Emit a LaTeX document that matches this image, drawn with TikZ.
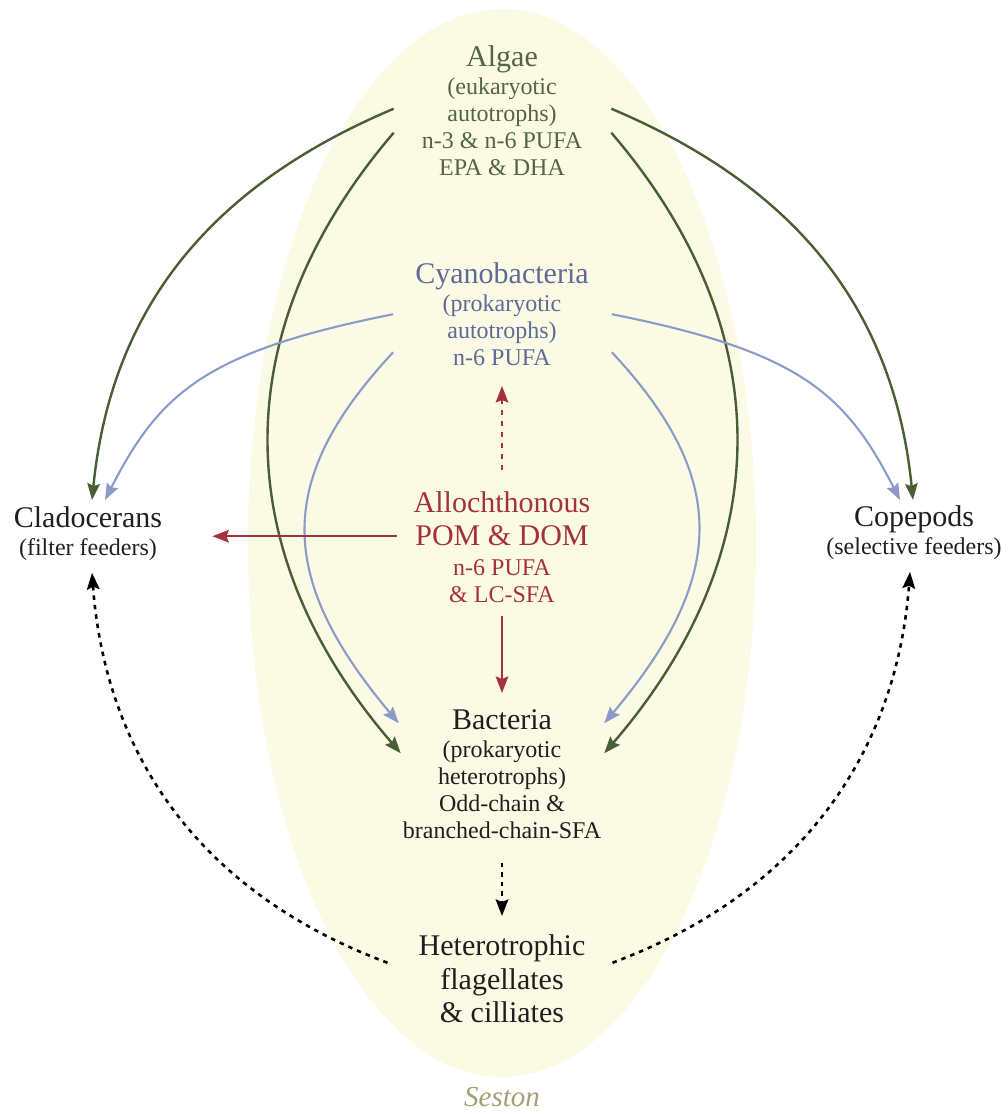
\documentclass[tikz,border=0pt]{standalone}
\usepackage{fontspec}
\setmainfont{Liberation Serif}
\usetikzlibrary{arrows.meta}
\definecolor{sestonfill}{RGB}{251,250,228}
\definecolor{algaegreen}{RGB}{74,94,54}
\definecolor{algaetext}{RGB}{84,100,72}
\definecolor{cyanoblue}{RGB}{140,154,200}
\definecolor{cyanotext}{RGB}{96,106,150}
\definecolor{allored}{RGB}{164,50,62}
\definecolor{sestontext}{RGB}{166,158,118}
\newcommand{\headsize}{\fontsize{30}{33.5}\selectfont}

\begin{document}
\begin{tikzpicture}[x=1pt,y=1pt,yscale=-1,
    txtblock/.style={align=center,inner sep=0pt,anchor=north,font=\fontsize{24}{27}\selectfont,text=black!88},
    flow/.style={line width=2.4pt,-{Stealth[length=16.5pt,width=12.5pt,inset=2.5pt]}},
    greenflow/.style={flow,draw=algaegreen},
    blueflow/.style={flow,line width=2.1pt,draw=cyanoblue},
    redflow/.style={flow,draw=allored},
    dotflow/.style={flow,line width=2.6pt,draw=black,dash pattern=on 4.5pt off 5pt}]
                \useasboundingbox (0,0) rectangle (1007,1114);
                % seston background
                \fill[sestonfill] (502,543) ellipse [x radius=254, y radius=534];
                % text blocks
                \node[txtblock,text=algaetext] (algae) at (502,45.5) {{\headsize Algae}\\[1pt] (eukaryotic\\ autotrophs)\\ n-3 \& n-6 PUFA\\ EPA \& DHA};
                \node[txtblock,text=cyanotext] (cyano) at (502,262.5) {{\headsize Cyanobacteria}\\[1pt] (prokaryotic\\ autotrophs)\\ n-6 PUFA};
                \node[txtblock,text=allored] (allo) at (502,491.5) {{\headsize Allochthonous}\\[6pt] {\headsize POM \& DOM}\\[3pt] n-6 PUFA\\ \& LC-SFA};
                \node[txtblock] (bact) at (502,709) {{\headsize Bacteria}\\[1pt] (prokaryotic\\ heterotrophs)\\ Odd-chain \&\\ branched-chain-SFA};
                \node[txtblock,font=\headsize] (hetero) at (502,934.5) {Heterotrophic\\ flagellates\\ \& cilliates};
                \node[txtblock] (clado) at (88,506.5) {{\headsize Cladocerans}\\[1pt] (filter feeders)};
                \node[txtblock] (cope) at (914,505.5) {{\headsize Copepods}\\[1pt] (selective feeders)};
                \node[anchor=base,inner sep=0pt,font=\fontsize{29}{32}\selectfont\itshape,text=sestontext] (seston) at (502,1106) {Seston};
                % algae
                \draw[greenflow] ([shift={(-28,-2)}]algae.west) .. controls +(-175,74) and +(20,-200) .. ([shift={(4,-6.5)}]clado.north);
                \draw[greenflow] ([shift={(29,-2)}]algae.east) .. controls +(175,74) and +(-20,-200) .. ([shift={(-1,-5.5)}]cope.north);
                \draw[greenflow] ([shift={(-28,22)}]algae.west) .. controls +(-168,196) and +(-175,-203) .. ([shift={(-2,-20.5)}]bact.west);
                \draw[greenflow] ([shift={(29,22)}]algae.east) .. controls +(168,196) and +(175,-203) .. ([shift={(3,-20.5)}]bact.east);
                % cyanobacteria
                \draw[blueflow] ([shift={(-22,0)}]cyano.west) .. controls +(-186,37) and +(55,-108) .. ([shift={(17,-6.5)}]clado.north);
                \draw[blueflow] ([shift={(23,0)}]cyano.east) .. controls +(186,37) and +(-55,-108) .. ([shift={(-14,-5.5)}]cope.north);
                \draw[blueflow] ([shift={(-22,38)}]cyano.west) .. controls +(-118,126.5) and +(-123,-146.5) .. ([shift={(-4,-50.5)}]bact.west);
                \draw[blueflow] ([shift={(23,38)}]cyano.east) .. controls +(118,126.5) and +(123,-146.5) .. ([shift={(3,-50.5)}]bact.east);
                % allochthonous
                \draw[redflow] ([shift={(-16,-11)}]allo.west) coordinate (allofrom) -- ([xshift=50pt]clado.east |- allofrom);
                \draw[redflow] ([shift={(0,13)}]allo.south) -- ([shift={(0,-16)}]bact.north);
                \draw[redflow,dash pattern=on 5pt off 6pt] ([shift={(0,-21.5)}]allo.north) -- ([shift={(0,20)}]cyano.south);
                % heterotrophs
                \draw[dotflow] ([shift={(0,24)}]bact.south) -- ([shift={(0,-18.5)}]hetero.north);
                \draw[dotflow] ([shift={(-31,-16)}]hetero.west) .. controls +(-211,-79) and +(11.5,156) .. ([shift={(4,12)}]clado.south);
                \draw[dotflow] ([shift={(27,-16)}]hetero.east) .. controls +(211,-79) and +(-11.5,156) .. ([shift={(-4,12)}]cope.south);
\end{tikzpicture}
\end{document}
